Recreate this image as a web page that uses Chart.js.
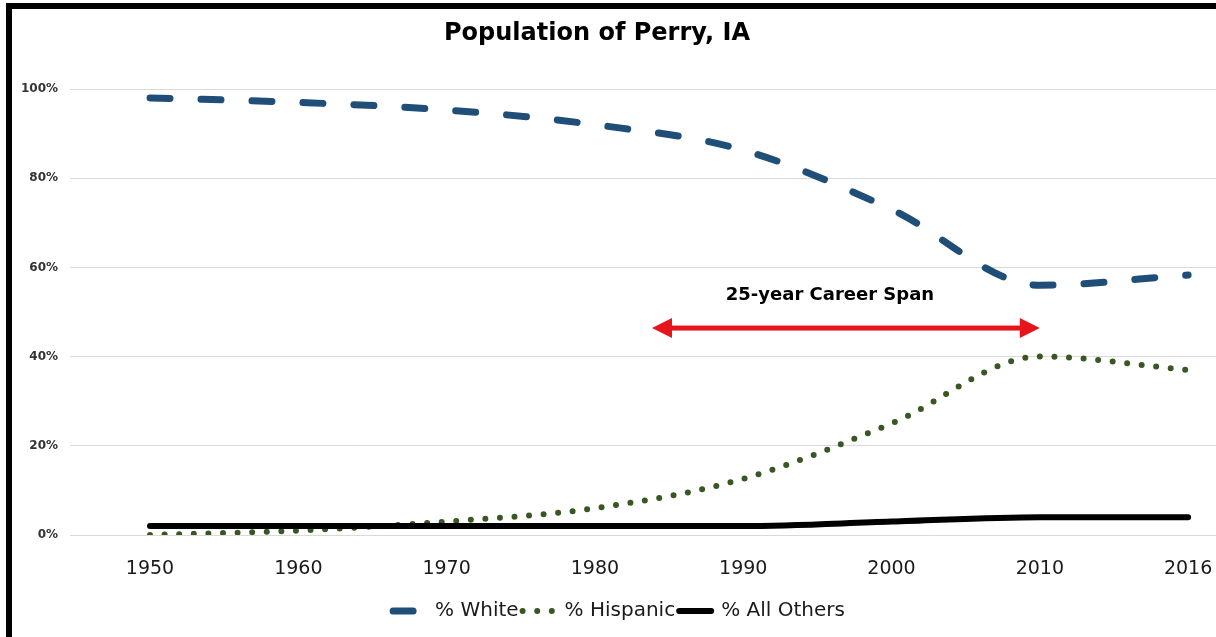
<!DOCTYPE html>
<html>
<head>
<meta charset="utf-8">
<title>Population of Perry, IA</title>
<script src="https://cdn.jsdelivr.net/npm/chart.js@4.4.1/dist/chart.umd.min.js"></script>
<style>
  html, body { margin: 0; padding: 0; background: #fff; overflow: hidden; }
  #wrap { position: relative; width: 1216px; height: 637px; overflow: hidden; }
  #chart { position: absolute; left: 0; top: 0; }
  #frame {
    position: absolute; left: 6px; top: 3px; width: 1240px; height: 632px;
    border: 6px solid #000; pointer-events: none;
  }
</style>
</head>
<body>
<div id="wrap">
  <canvas id="chart" width="1216" height="637"></canvas>
  <div id="frame"></div>
</div>
<script>
// Census years shown on the x axis (equally spaced categories)
const years = ['1950', '1960', '1970', '1980', '1990', '2000', '2010', '2016'];

// Share of the population, in percent
const pctWhite    = [98, 97, 95.3, 92, 86.3, 73, 56, 58.3];
const pctHispanic = [0, 1, 3, 6, 12.6, 25, 40, 37];
const pctOthers   = [2, 2, 2, 2, 2, 3, 4, 4];

// Percent ticks on the y axis
const yTicks = [0, 20, 40, 60, 80, 100];

// Career span annotation (x in category positions, y in percent)
const spanLabel = '25-year Career Span';
const spanFrom = 3.385;
const spanTo = 6.0;
const spanLevel = 46.4;
const spanLabelX = 4.585;
const spanLabelY = 53.8;

const chartTitle = 'Population of Perry, IA';
const FONT = "'DejaVu Sans', sans-serif";

const toPoints = (vals) => vals.map((v, i) => ({ x: i, y: v }));

const titlePlugin = {
  id: 'centerTitle',
  afterDraw(chart) {
    const ctx = chart.ctx;
    ctx.save();
    ctx.font = 'bold 24px ' + FONT;
    ctx.fillStyle = '#000';
    ctx.textAlign = 'center';
    ctx.textBaseline = 'middle';
    ctx.fillText(chartTitle, 597, 34);
    ctx.restore();
  }
};

const spanPlugin = {
  id: 'careerSpan',
  afterDatasetsDraw(chart) {
    const { ctx, scales: { x, y } } = chart;
    const x1 = x.getPixelForValue(spanFrom);
    const x2 = x.getPixelForValue(spanTo);
    const yy = y.getPixelForValue(spanLevel);
    const head = 20, half = 10, shaft = 5;
    ctx.save();
    ctx.fillStyle = '#e8141b';
    ctx.fillRect(x1 + head - 1, yy - shaft / 2, (x2 - x1) - 2 * head + 2, shaft);
    ctx.beginPath();
    ctx.moveTo(x1, yy);
    ctx.lineTo(x1 + head, yy - half);
    ctx.lineTo(x1 + head, yy + half);
    ctx.closePath();
    ctx.fill();
    ctx.beginPath();
    ctx.moveTo(x2, yy);
    ctx.lineTo(x2 - head, yy - half);
    ctx.lineTo(x2 - head, yy + half);
    ctx.closePath();
    ctx.fill();
    ctx.font = 'bold 18px ' + FONT;
    ctx.fillStyle = '#000';
    ctx.textAlign = 'center';
    ctx.textBaseline = 'middle';
    ctx.fillText(spanLabel, x.getPixelForValue(spanLabelX), y.getPixelForValue(spanLabelY));
    ctx.restore();
  }
};

const lineDataset = (label, values, color, width, dash, order) => ({
  label,
  data: toPoints(values),
  borderColor: color,
  backgroundColor: color,
  borderWidth: width,
  borderDash: dash,
  borderCapStyle: 'round',
  pointRadius: 0,
  cubicInterpolationMode: 'monotone',
  order
});

new Chart(document.getElementById('chart'), {
  type: 'line',
  data: {
    datasets: [
      lineDataset('% White', pctWhite, '#1f4e79', 7, [20, 31], 2),
      lineDataset('% Hispanic', pctHispanic, '#385723', 6, [0, 14.6], 1),
      lineDataset('% All Others', pctOthers, '#000000', 6, [], 0)
    ]
  },
  options: {
    responsive: false,
    animation: false,
    layout: { padding: { top: 89, left: 22, right: 0, bottom: 6 } },
    plugins: {
      title: { display: false },
      tooltip: { enabled: false },
      legend: {
        position: 'bottom',
        labels: {
          usePointStyle: true,
          pointStyle: 'line',
          pointStyleWidth: 32,
          boxHeight: 20,
          padding: 4,
          color: '#1a1a1a',
          font: { family: FONT, size: 20 },
          sort: (a, b) => a.datasetIndex - b.datasetIndex,
          generateLabels(chart) {
            const base = Chart.defaults.plugins.legend.labels.generateLabels(chart);
            return base.map(item => {
              const ds = chart.data.datasets[item.datasetIndex];
              return Object.assign({}, item, {
                lineDash: ds.borderDash,
                lineCap: ds.borderCapStyle,
                lineWidth: ds.borderWidth,
                strokeStyle: ds.borderColor,
                fillStyle: ds.borderColor
              });
            });
          }
        }
      }
    },
    scales: {
      x: {
        type: 'linear',
        min: -0.5395,
        max: 7.188,
        afterFit(scale) {
          scale.height = 62;
          scale.paddingLeft = 0;
          scale.paddingRight = 0;
        },
        grid: { display: false, drawTicks: false },
        border: { display: false },
        ticks: {
          stepSize: 1,
          includeBounds: false,
          autoSkip: false,
          maxRotation: 0,
          padding: 23,
          color: '#1a1a1a',
          font: { family: FONT, size: 19 },
          callback: (v) => (Number.isInteger(v) && years[v] !== undefined ? years[v] : '')
        }
      },
      y: {
        min: 0,
        max: 100,
        afterFit(scale) { scale.width = 48; },
        afterBuildTicks(scale) { scale.ticks = yTicks.map(v => ({ value: v })); },
        grid: { color: '#d9d9d9', lineWidth: 1, drawTicks: false },
        border: { display: false },
        ticks: {
          padding: 12,
          color: '#333333',
          font: { family: FONT, size: 12, weight: 'bold' },
          callback: (v) => v + '%'
        }
      }
    }
  },
  plugins: [titlePlugin, spanPlugin]
});
</script>
</body>
</html>
